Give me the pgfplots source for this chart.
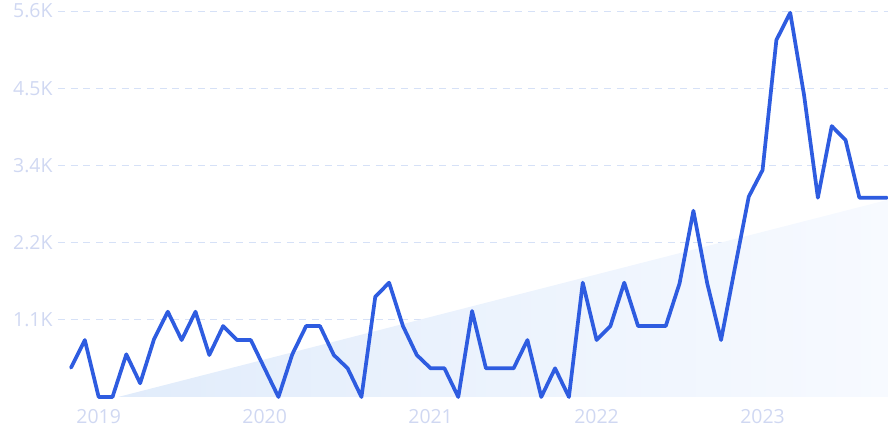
\documentclass[border=0pt]{standalone}
\usepackage{pgfplots}
\pgfplotsset{compat=1.18}
\usepackage{fontspec}
\setmainfont{Open Sans}
\definecolor{lineblue}{RGB}{46,92,224}
\definecolor{lbl}{RGB}{208,216,242}
\definecolor{gridc}{RGB}{214,225,247}
\definecolor{areaL}{RGB}{225,236,251}
\definecolor{areaR}{RGB}{247,250,255}
\begin{document}
\begin{tikzpicture}
\path[use as bounding box] (0,0) rectangle (888bp,443bp);
\begin{axis}[
  at={(58bp,46bp)}, anchor=south west,
  scale only axis, width=830bp, height=386bp,
  xmin=-0.94, xmax=59.07, ymin=0, ymax=5625,
  clip=false,
  axis line style={draw=none},
  major tick length=0pt,
  xtick={2,14,26,38,50},
  xticklabels={2019,2020,2021,2022,2023},
  ytick={1125,2250,3375,4500,5625},
  yticklabels={1.1K,2.2K,3.4K,4.5K,5.6K},
  ymajorgrids,
  grid style={gridc, line width=0.9bp, dash pattern=on 7bp off 5.7bp},
  tick label style={font=\fontsize{19.5}{19.5}\selectfont, text=lbl},
  xticklabel style={yshift=-9bp},
  yticklabel style={xshift=-2bp},
  /pgf/number format/assume math mode=true,
]
\addplot[draw=none, left color=areaL, right color=areaR] coordinates {(3.4,0) (59.07,2874) (59.07,0)} -- cycle;
\addplot[lineblue, line width=3.7bp, line join=round, line cap=round] coordinates {
(0,427) (1,830) (2,0) (3,0) (4,622) (5,200) (6,841) (7,1243) (8,830) (9,1243)
(10,612) (11,1034) (12,830) (13,830) (14,415) (15,0) (16,622) (17,1034) (18,1034) (19,612)
(20,418) (21,0) (22,1461) (23,1666) (24,1034) (25,612) (26,418) (27,418) (28,0) (29,1253)
(30,418) (31,418) (32,418) (33,830) (34,0) (35,418) (36,0) (37,1666) (38,830) (39,1034)
(40,1666) (41,1034) (42,1034) (43,1034) (44,1656) (45,2714) (46,1656) (47,830) (48,1880) (49,2918)
(50,3307) (51,5202) (52,5600) (53,4400) (54,2904) (55,3948) (56,3745) (57,2904) (58,2904) (59,2904)
};
\end{axis}
\end{tikzpicture}
\end{document}
